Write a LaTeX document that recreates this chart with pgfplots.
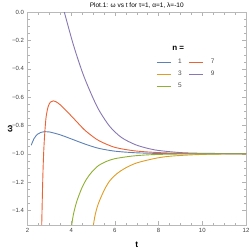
\documentclass[border=0pt]{standalone}
\usepackage{pgfplots}
\pgfplotsset{compat=1.18}
\usepackage{fontspec}
\setmainfont{Liberation Sans}
\definecolor{mblue}{rgb}{0.368417,0.506779,0.709798}
\definecolor{morange}{rgb}{0.880722,0.611041,0.142051}
\definecolor{mgreen}{rgb}{0.560181,0.691569,0.194885}
\definecolor{mred}{rgb}{0.922526,0.385626,0.209179}
\definecolor{mpurple}{rgb}{0.528488,0.470624,0.701351}
\begin{document}
\begin{tikzpicture}
\path[use as bounding box] (-27.5pt,-27pt) rectangle (221.5pt,225pt);
\begin{axis}[
  at={(0,0)}, anchor=south west,
  scale only axis, width=218.5pt, height=212.7pt,
  xmin=2, xmax=12, ymin=-1.504, ymax=0,
  axis line style={gray!55},
  tick align=inside, tick pos=both, ticklabel pos=left,
  major tick length=4pt, minor tick length=2.3pt,
  every tick/.style={gray!60, line width=0.4pt},
  xtick={2,4,6,8,10,12}, minor x tick num=3,
  ytick={-1.4,-1.2,-1.0,-0.8,-0.6,-0.4,-0.2,0},
  yticklabels={−1.4,−1.2,−1.0,−0.8,−0.6,−0.4,−0.2,0.0},
  minor y tick num=3,
  /pgf/number format/assume math mode=true,
  tick label style={font=\fontsize{6}{7}\selectfont, text=black!75},
  xlabel={\textbf{t}}, ylabel={\textbf{ω}},
  label style={font=\fontsize{8.5}{9}\selectfont},
  xlabel style={yshift=-2pt},
  ylabel style={at={(axis description cs:-0.08,0.45)}, anchor=center},
  title={Plot.1: ω vs t for τ=1, α=1, λ=-10},
  title style={font=\fontsize{6.5}{7}\selectfont, yshift=-6pt},
  legend columns=2,
  legend style={at={(rel axis cs:0.575,0.80)}, anchor=north west, draw=none, fill=none,
    font=\fontsize{6.5}{7}\selectfont, text=black!70, column sep=5pt, row sep=2pt},
  legend image code/.code={\draw[#1] (0pt,0pt) -- (14pt,0pt);},
  every axis plot/.append style={line width=0.9pt, smooth},
]
\addplot[mblue] coordinates {(2.17,-0.94) (2.3,-0.893) (2.45,-0.863) (2.6,-0.85) (2.8,-0.844) (3.0,-0.846) (3.49,-0.866) (4.17,-0.905) (4.6,-0.93) (5.01,-0.951) (5.32,-0.964) (6.0,-0.982) (6.92,-0.993) (8,-0.998) (9,-0.9995) (10,-1.0) (12,-1.0)};
\addlegendentry{1}
\addplot[mred] coordinates {(2.65,-1.51) (2.68,-1.3) (2.71,-1.12) (2.75,-0.96) (2.80,-0.83) (2.86,-0.73) (2.95,-0.665) (3.05,-0.635) (3.18,-0.626) (3.3,-0.632) (3.49,-0.653) (3.8,-0.70) (4.2,-0.765) (4.6,-0.83) (5.0,-0.88) (5.32,-0.912) (6.0,-0.955) (6.92,-0.98) (8,-0.992) (9,-0.997) (10,-0.999) (12,-1.0)};
\addlegendentry{7}
\addplot[morange] coordinates {(5.01,-1.51) (5.1,-1.43) (5.25,-1.35) (5.55,-1.245) (5.8,-1.185) (6.1,-1.14) (6.46,-1.103) (7.0,-1.065) (7.84,-1.033) (8.5,-1.018) (9.5,-1.008) (10.5,-1.003) (12,-1.001)};
\addlegendentry{3}
\addplot[mpurple] coordinates {(3.67,0.01) (4.1,-0.23) (4.55,-0.44) (5.01,-0.61) (5.32,-0.705) (5.78,-0.81) (6.3,-0.885) (6.92,-0.935) (7.5,-0.962) (8,-0.977) (9,-0.992) (10,-0.997) (12,-1.0)};
\addlegendentry{9}
\addplot[mgreen] coordinates {(4.02,-1.51) (4.1,-1.43) (4.25,-1.34) (4.48,-1.245) (4.7,-1.18) (4.94,-1.13) (5.24,-1.085) (5.6,-1.055) (6.0,-1.035) (6.77,-1.017) (7.5,-1.008) (8.5,-1.003) (10,-1.001) (12,-1.0)};
\addlegendentry{5}
\node[font=\fontsize{8}{9}\selectfont\bfseries] at (rel axis cs:0.69,0.83) {n =};
\end{axis}
\end{tikzpicture}
\end{document}
